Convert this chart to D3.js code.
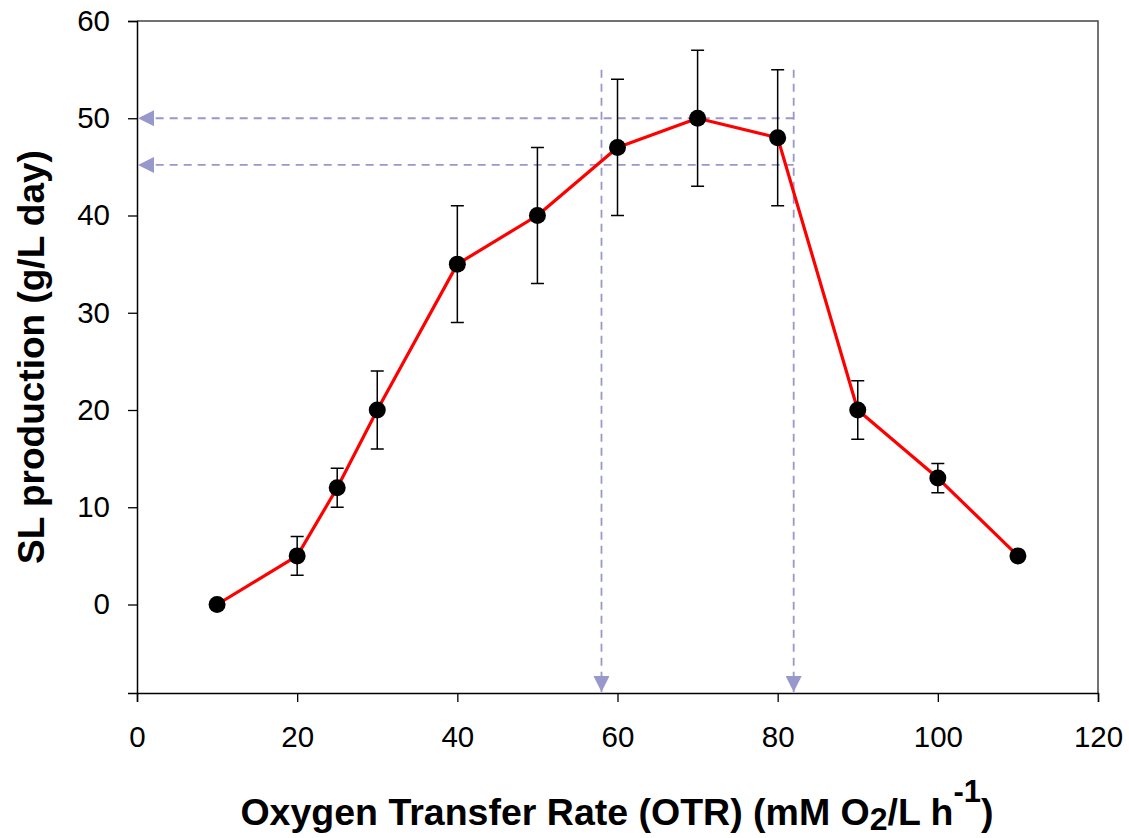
<!DOCTYPE html>
<html>
<head>
<meta charset="utf-8">
<script src="https://cdn.jsdelivr.net/npm/d3@7"></script>
<style>
  body { margin: 0; background: #fff; }
  svg { display: block; font-family: "Liberation Sans", Arial, sans-serif; }
</style>
</head>
<body>
<div id="chart"></div>
<script>
// data
const otr = [10, 20, 25, 30, 40, 50, 60, 70, 80, 90, 100, 110]
const production = [0, 5, 12, 20, 35, 40, 47, 50, 48, 20, 13, 5]
const errors = [null, 2, 2, 4, 6, 7, 7, 7, 7, 3, 1.5, null]
const xTicks = [0, 20, 40, 60, 80, 100, 120]
const yTicks = [0, 10, 20, 30, 40, 50, 60]
// guide lines (dashed, with arrows)
const guideX = [58, 82]
const guideY = [50, 45.2]
const guideTop = 55

const width = 1129
const height = 838
const margin = { top: 21, right: 31, bottom: 145, left: 137 }

const svg = d3.select('#chart').append('svg')
  .attr('width', width)
  .attr('height', height)

const x = d3.scaleLinear()
  .domain([0, 120])
  .range([margin.left, width - margin.right])
const y = d3.scaleLinear()
  .domain([-9.1, 60])
  .range([height - margin.bottom, margin.top])

const guideColor = '#9898cc'

// arrow head marker
svg.append('defs').append('marker')
  .attr('id', 'arrow')
  .attr('viewBox', '0 0 16 16')
  .attr('refX', 16)
  .attr('refY', 8)
  .attr('markerWidth', 16)
  .attr('markerHeight', 16)
  .attr('markerUnits', 'userSpaceOnUse')
  .attr('orient', 'auto')
  .append('path')
  .attr('d', 'M0,0 L16,8 L0,16 Z')
  .attr('fill', guideColor)

// frame (top + right)
svg.append('path')
  .attr('d', `M${x(0)},${y(60)} H${x(120)} V${y(-9.1)}`)
  .attr('fill', 'none')
  .attr('stroke', '#444')
  .attr('stroke-width', 1.5)

// axes
const xAxis = svg.append('g')
  .attr('transform', `translate(0,${y(-9.1)})`)
  .call(d3.axisBottom(x).tickValues(xTicks).tickSize(9).tickPadding(24))
const yAxis = svg.append('g')
  .attr('transform', `translate(${x(0)},0)`)
  .call(d3.axisLeft(y).tickValues(yTicks).tickSize(9).tickPadding(18))

for (const ax of [xAxis, yAxis]) {
  ax.select('.domain').attr('stroke', '#000').attr('stroke-width', 1.5)
  ax.selectAll('.tick line').attr('stroke', '#000').attr('stroke-width', 1.3)
  ax.selectAll('.tick text')
    .attr('fill', '#000')
    .attr('font-size', 29.5)
    .attr('font-family', '"Liberation Sans", Arial, sans-serif')
}

// guide lines
const guides = svg.append('g')
  .attr('stroke', guideColor)
  .attr('stroke-width', 1.8)
  .attr('stroke-dasharray', '8,6')
  .attr('fill', 'none')

guideY.forEach((v) => {
  guides.append('line')
    .attr('x1', x(guideX[1]))
    .attr('y1', y(v))
    .attr('x2', x(0) + 1)
    .attr('y2', y(v))
    .attr('marker-end', 'url(#arrow)')
})

guideX.forEach((v) => {
  guides.append('line')
    .attr('x1', x(v))
    .attr('y1', y(guideTop))
    .attr('x2', x(v))
    .attr('y2', y(-9.1) - 1)
    .attr('marker-end', 'url(#arrow)')
})

const points = otr.map((d, i) => ({ x: d, y: production[i], err: errors[i] }))

// error bars
const errG = svg.append('g')
  .attr('stroke', '#000')
  .attr('stroke-width', 1.5)
points.filter(d => d.err != null).forEach((d) => {
  const cx = x(d.x)
  const top = y(d.y + d.err)
  const bot = y(d.y - d.err)
  errG.append('path')
    .attr('d', `M${cx},${top} V${bot} M${cx - 6.5},${top} H${cx + 6.5} M${cx - 6.5},${bot} H${cx + 6.5}`)
    .attr('fill', 'none')
})

// line
svg.append('path')
  .datum(points)
  .attr('fill', 'none')
  .attr('stroke', '#ff0000')
  .attr('stroke-width', 3.2)
  .attr('stroke-linejoin', 'round')
  .attr('d', d3.line().x(d => x(d.x)).y(d => y(d.y)))

// markers
svg.append('g')
  .selectAll('circle')
  .data(points)
  .join('circle')
  .attr('cx', d => x(d.x))
  .attr('cy', d => y(d.y))
  .attr('r', 8.5)
  .attr('fill', '#000')

// axis titles
svg.append('text')
  .attr('transform', `translate(44,${(y(60) + y(-9.1)) / 2}) rotate(-90)`)
  .attr('text-anchor', 'middle')
  .attr('font-size', 37)
  .attr('font-weight', 'bold')
  .text('SL production (g/L day)')

const xTitle = svg.append('text')
  .attr('x', 617)
  .attr('y', 825)
  .attr('text-anchor', 'middle')
  .attr('font-size', 37.5)
  .attr('font-weight', 'bold')
xTitle.append('tspan').text('Oxygen Transfer Rate (OTR) (mM O')
xTitle.append('tspan').attr('dy', 5).attr('font-size', 32).text('2')
xTitle.append('tspan').attr('dy', -5).text('/L h')
xTitle.append('tspan').attr('dy', -23).attr('font-size', 31).text('-1')
xTitle.append('tspan').attr('dy', 23).text(')')
</script>
</body>
</html>
